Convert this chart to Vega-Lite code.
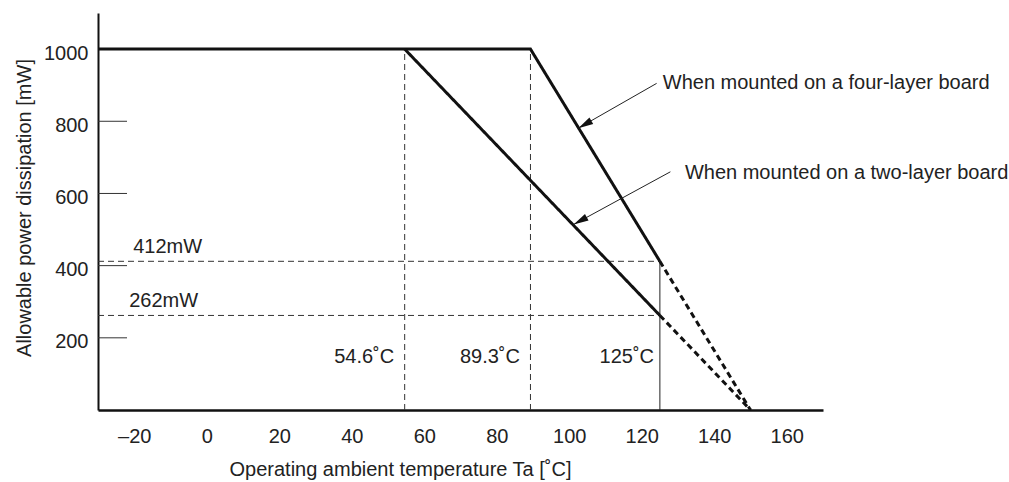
{
  "$schema": "https://vega.github.io/schema/vega-lite/v6.json",
  "width": 725,
  "height": 397,
  "autosize": {"type": "none"},
  "padding": {"left": 98, "top": 13, "right": 186, "bottom": 72},
  "background": "white",
  "config": {
    "view": {"stroke": null},
    "font": "Liberation Sans",
    "text": {"font": "Liberation Sans", "fontSize": 20, "color": "#222"}
  },
  "datasets": {
    "refdash": [
      {"x": 54.6, "y": 0, "x2": 54.6, "y2": 1000},
      {"x": 89.3, "y": 0, "x2": 89.3, "y2": 1000},
      {"x": -30, "y": 412, "x2": 125, "y2": 412},
      {"x": -30, "y": 262, "x2": 125, "y2": 262}
    ],
    "refsolid": [
      {"x": 125, "y": 0, "x2": 125, "y2": 412}
    ],
    "yticks": [
      {"x": -30, "x2": -22, "y": 200},
      {"x": -30, "x2": -22, "y": 400},
      {"x": -30, "x2": -22, "y": 600},
      {"x": -30, "x2": -22, "y": 800},
      {"x": -30, "x2": -22, "y": 1000}
    ],
    "curves": [
      {"segment": "four-solid", "style": "solid", "temp": -30, "power": 1000},
      {"segment": "four-solid", "style": "solid", "temp": 89.3, "power": 1000},
      {"segment": "four-solid", "style": "solid", "temp": 125, "power": 412},
      {"segment": "four-dash", "style": "dashed", "temp": 125, "power": 412},
      {"segment": "four-dash", "style": "dashed", "temp": 150, "power": 0},
      {"segment": "two-solid", "style": "solid", "temp": 54.6, "power": 1000},
      {"segment": "two-solid", "style": "solid", "temp": 125, "power": 262},
      {"segment": "two-dash", "style": "dashed", "temp": 125, "power": 262},
      {"segment": "two-dash", "style": "dashed", "temp": 150, "power": 0}
    ],
    "arrows": [
      {"board": "four", "x": 124.1, "y": 905, "x2": 102.5, "y2": 781},
      {"board": "two", "x": 127.9, "y": 660, "x2": 101.2, "y2": 514}
    ],
    "labels": [
      {"kind": "left", "x": -20.3, "y": 435, "text": "412mW"},
      {"kind": "left", "x": -21.4, "y": 286, "text": "262mW"},
      {"kind": "right", "x": 51.7, "y": 130, "text": "54.6˚C"},
      {"kind": "right", "x": 86.4, "y": 130, "text": "89.3˚C"},
      {"kind": "right", "x": 123.4, "y": 130, "text": "125˚C"},
      {"kind": "left", "x": 125.8, "y": 889, "text": "When mounted on a four-layer board"},
      {"kind": "left", "x": 131.9, "y": 640, "text": "When mounted on a two-layer board"}
    ]
  },
  "layer": [
    {
      "data": {"name": "refdash"},
      "mark": {"type": "rule", "strokeWidth": 1, "color": "#333", "strokeDash": [6, 4]},
      "encoding": {
        "x": {
          "field": "x", "type": "quantitative",
          "scale": {"domain": [-30, 170], "nice": false, "zero": false},
          "axis": {
            "values": [-20, 0, 20, 40, 60, 80, 100, 120, 140, 160],
            "labelExpr": "replace(datum.label, '−', '–')",
            "ticks": false,
            "tickSize": 0,
            "grid": false,
            "labelPadding": 32,
            "labelBaseline": "alphabetic",
            "labelFont": "Liberation Sans",
            "labelFontSize": 20,
            "labelColor": "#222",
            "labelFlush": false,
            "labelOverlap": false,
            "domainColor": "#111",
            "domainWidth": 2.5,
            "title": "Operating ambient temperature Ta [˚C]",
            "titleFont": "Liberation Sans",
            "titleFontSize": 20,
            "titleFontWeight": "normal",
            "titleColor": "#222",
            "titleX": 302,
            "titleY": 65,
            "titleAlign": "center",
            "titleBaseline": "alphabetic"
          }
        },
        "x2": {"field": "x2"},
        "y": {
          "field": "y", "type": "quantitative",
          "scale": {"domain": [0, 1100], "nice": false, "zero": true},
          "axis": {
            "values": [200, 400, 600, 800, 1000],
            "format": "d",
            "ticks": false,
            "tickSize": 0,
            "grid": false,
            "labelPadding": 10,
            "labelBaseline": "alphabetic",
            "labelOffset": 10,
            "labelFont": "Liberation Sans",
            "labelFontSize": 20,
            "labelColor": "#222",
            "labelFlush": false,
            "labelOverlap": false,
            "domainColor": "#111",
            "domainWidth": 2,
            "title": "Allowable power dissipation [mW]",
            "titleFont": "Liberation Sans",
            "titleFontSize": 20,
            "titleFontWeight": "normal",
            "titleColor": "#222",
            "titleAngle": -90,
            "titleX": -68,
            "titleY": 194.5,
            "titleAlign": "center",
            "titleBaseline": "alphabetic"
          }
        },
        "y2": {"field": "y2"}
      }
    },
    {
      "data": {"name": "refsolid"},
      "mark": {"type": "rule", "strokeWidth": 1, "color": "#222"},
      "encoding": {
        "x": {"field": "x", "type": "quantitative"},
        "x2": {"field": "x2"},
        "y": {"field": "y", "type": "quantitative"},
        "y2": {"field": "y2"}
      }
    },
    {
      "data": {"name": "yticks"},
      "mark": {"type": "rule", "strokeWidth": 1, "color": "#333"},
      "encoding": {
        "x": {"field": "x", "type": "quantitative"},
        "x2": {"field": "x2"},
        "y": {"field": "y", "type": "quantitative"}
      }
    },
    {
      "data": {"name": "curves"},
      "mark": {"type": "line", "strokeWidth": 3, "color": "#111", "strokeCap": "butt", "strokeJoin": "miter"},
      "encoding": {
        "x": {"field": "temp", "type": "quantitative"},
        "y": {"field": "power", "type": "quantitative"},
        "detail": {"field": "segment", "type": "nominal"},
        "strokeDash": {
          "field": "style", "type": "nominal",
          "scale": {"domain": ["solid", "dashed"], "range": [[1, 0], [6, 4]]},
          "legend": null
        }
      }
    },
    {
      "data": {"name": "arrows"},
      "mark": {"type": "rule", "strokeWidth": 1, "color": "#222"},
      "encoding": {
        "x": {"field": "x", "type": "quantitative"},
        "x2": {"field": "x2"},
        "y": {"field": "y", "type": "quantitative"},
        "y2": {"field": "y2"}
      }
    },
    {
      "data": {"name": "arrows"},
      "transform": [{"filter": "datum.board === 'four'"}],
      "mark": {"type": "point", "shape": "M0,0L-0.25,1L0.25,1Z", "size": 900, "filled": true, "color": "#111", "opacity": 1, "angle": 240},
      "encoding": {
        "x": {"field": "x2", "type": "quantitative"},
        "y": {"field": "y2", "type": "quantitative"}
      }
    },
    {
      "data": {"name": "arrows"},
      "transform": [{"filter": "datum.board === 'two'"}],
      "mark": {"type": "point", "shape": "M0,0L-0.25,1L0.25,1Z", "size": 900, "filled": true, "color": "#111", "opacity": 1, "angle": 241.4},
      "encoding": {
        "x": {"field": "x2", "type": "quantitative"},
        "y": {"field": "y2", "type": "quantitative"}
      }
    },
    {
      "data": {"name": "labels"},
      "transform": [{"filter": "datum.kind === 'left'"}],
      "mark": {"type": "text", "align": "left", "baseline": "alphabetic"},
      "encoding": {
        "x": {"field": "x", "type": "quantitative"},
        "y": {"field": "y", "type": "quantitative"},
        "text": {"field": "text"}
      }
    },
    {
      "data": {"name": "labels"},
      "transform": [{"filter": "datum.kind === 'right'"}],
      "mark": {"type": "text", "align": "right", "baseline": "alphabetic"},
      "encoding": {
        "x": {"field": "x", "type": "quantitative"},
        "y": {"field": "y", "type": "quantitative"},
        "text": {"field": "text"}
      }
    }
  ]
}
